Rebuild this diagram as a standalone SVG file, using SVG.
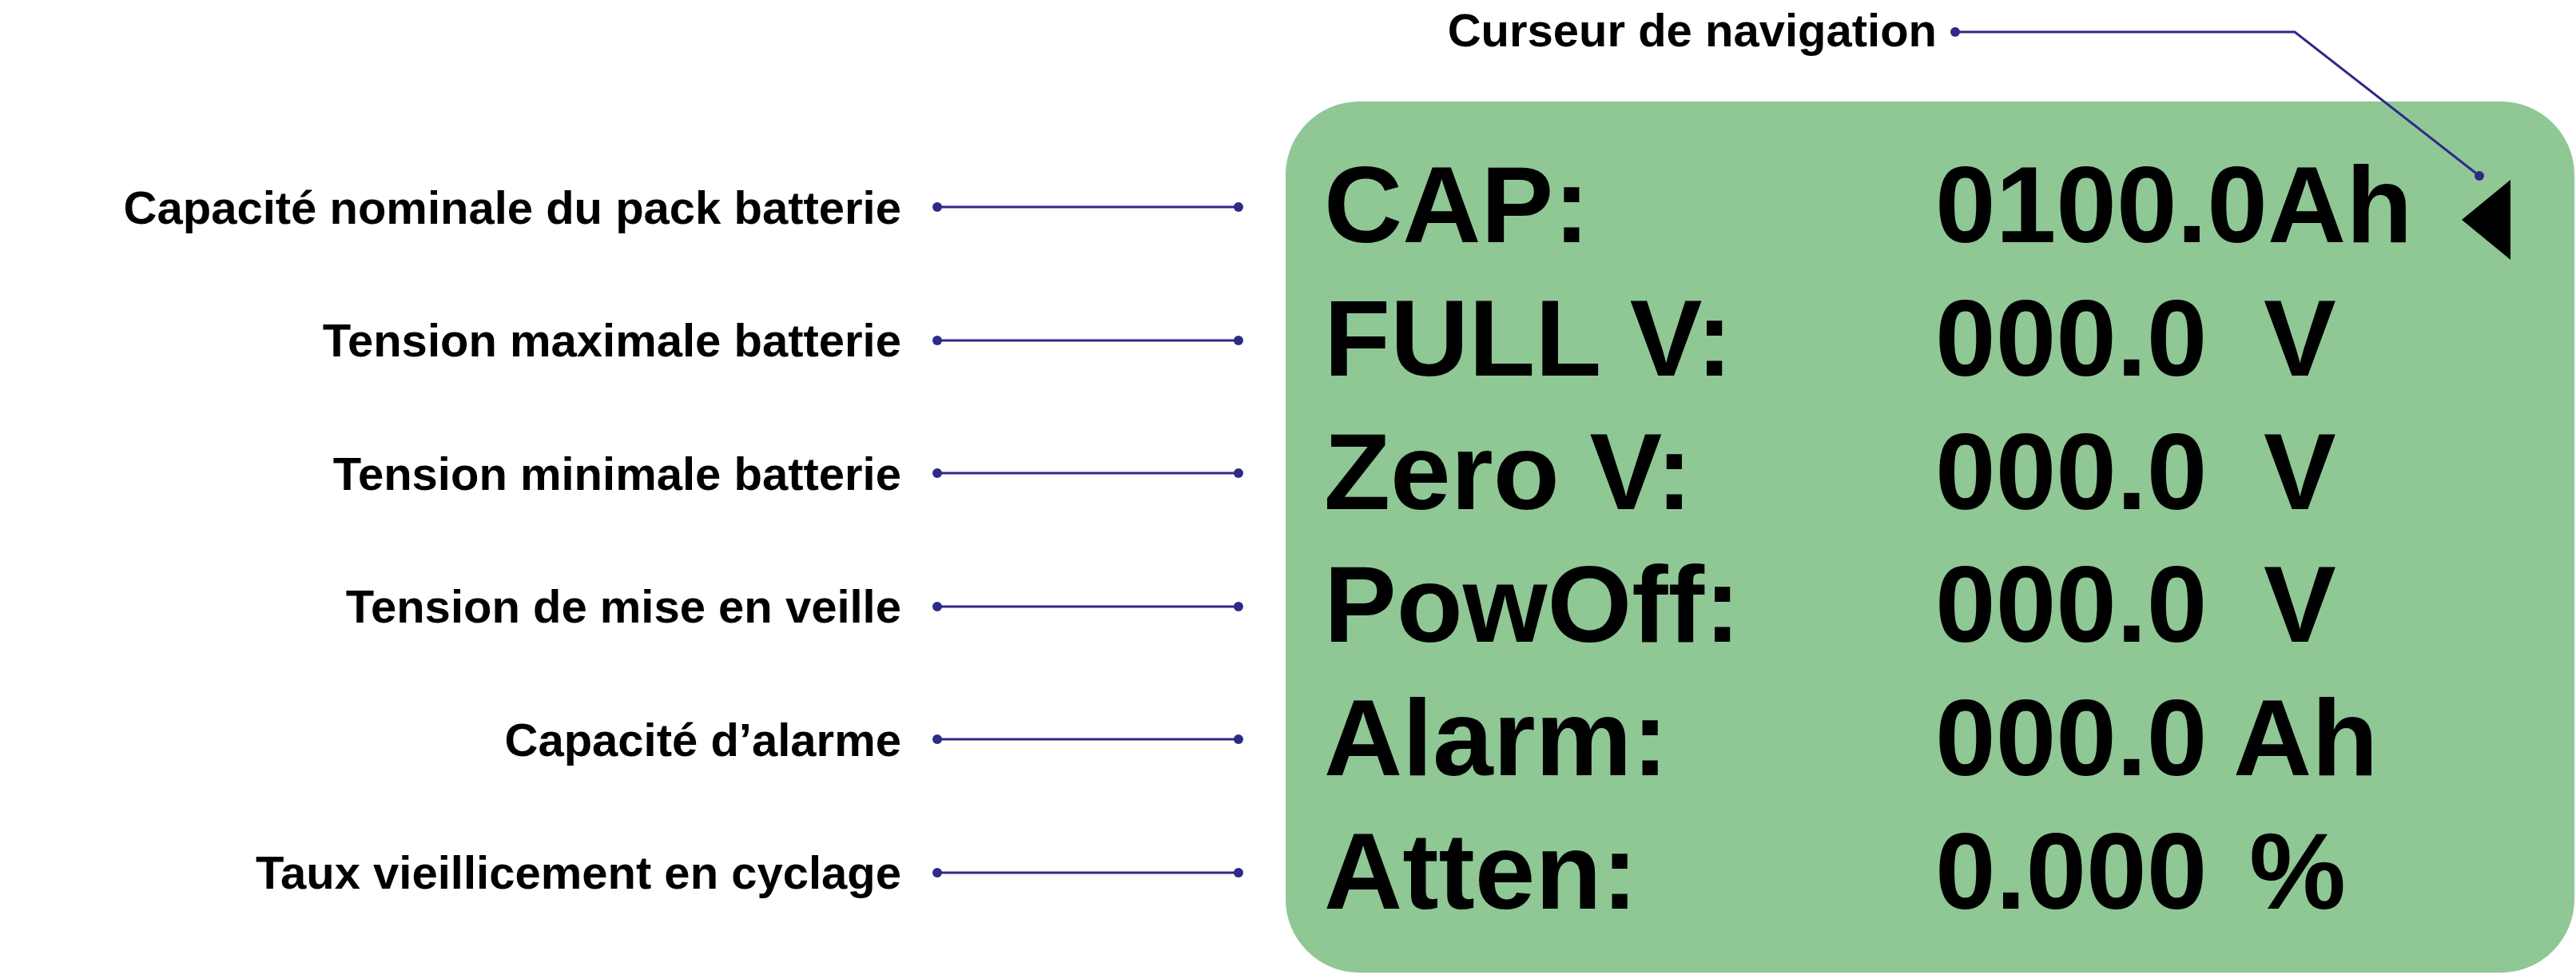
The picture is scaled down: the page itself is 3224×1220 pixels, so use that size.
<svg xmlns="http://www.w3.org/2000/svg" width="3224" height="1220" viewBox="0 0 3224 1220">
<style>
.lbl{font-family:"Liberation Sans",Arial,sans-serif;font-weight:bold;font-size:58px;fill:#000;text-anchor:end}
.big{font-family:"Liberation Sans",Arial,sans-serif;font-weight:bold;font-size:136px;fill:#000;white-space:pre}
.ln{stroke:#2e2a86;stroke-width:3;fill:none}
.dot{fill:#2e2a86}
</style>
<rect width="3224" height="1220" fill="#fff"/>
<g id="screen">
<rect x="1609" y="127" width="1613" height="1090" rx="92" fill="#8fc795"/>
<text class="big" x="1657" y="303">CAP:</text><text class="big" x="2422" y="303">0100.0Ah</text>
<text class="big" x="1657" y="470">FULL V:</text><text class="big" x="2422" y="470">000.0</text><text class="big" x="2833" y="470">V</text>
<text class="big" x="1657" y="637">Zero V:</text><text class="big" x="2422" y="637">000.0</text><text class="big" x="2833" y="637">V</text>
<text class="big" x="1657" y="803">PowOff:</text><text class="big" x="2422" y="803">000.0</text><text class="big" x="2833" y="803">V</text>
<text class="big" x="1657" y="970">Alarm:</text><text class="big" x="2422" y="970">000.0</text><text class="big" x="2795" y="970">Ah</text>
<text class="big" x="1657" y="1137">Atten:</text><text class="big" x="2422" y="1137">0.000</text><text class="big" x="2815" y="1137">%</text>
<polygon id="cursor" points="3081,275 3142,225 3142,325" fill="#000"/>
</g>
<g id="labels">
<text class="lbl" x="1128" y="280">Capacité nominale du pack batterie</text>
<text class="lbl" x="1128" y="446">Tension maximale batterie</text>
<text class="lbl" x="1128" y="613">Tension minimale batterie</text>
<text class="lbl" x="1128" y="779">Tension de mise en veille</text>
<text class="lbl" x="1128" y="946">Capacité d’alarme</text>
<text class="lbl" x="1128" y="1112">Taux vieillicement en cyclage</text>
<text class="lbl" x="2424" y="58">Curseur de navigation</text>
</g>
<g id="connectors">
<path class="ln" d="M1173 259H1550M1173 426H1550M1173 592H1550M1173 759H1550M1173 925H1550M1173 1092H1550"/>
<path class="ln" d="M2447 40H2872L3103 220"/>
<g class="dot">
<circle cx="1173" cy="259" r="6"/><circle cx="1550" cy="259" r="6"/>
<circle cx="1173" cy="426" r="6"/><circle cx="1550" cy="426" r="6"/>
<circle cx="1173" cy="592" r="6"/><circle cx="1550" cy="592" r="6"/>
<circle cx="1173" cy="759" r="6"/><circle cx="1550" cy="759" r="6"/>
<circle cx="1173" cy="925" r="6"/><circle cx="1550" cy="925" r="6"/>
<circle cx="1173" cy="1092" r="6"/><circle cx="1550" cy="1092" r="6"/>
<circle cx="2447" cy="40" r="6"/><circle cx="3103" cy="220" r="6"/>
</g>
</g>
</svg>
